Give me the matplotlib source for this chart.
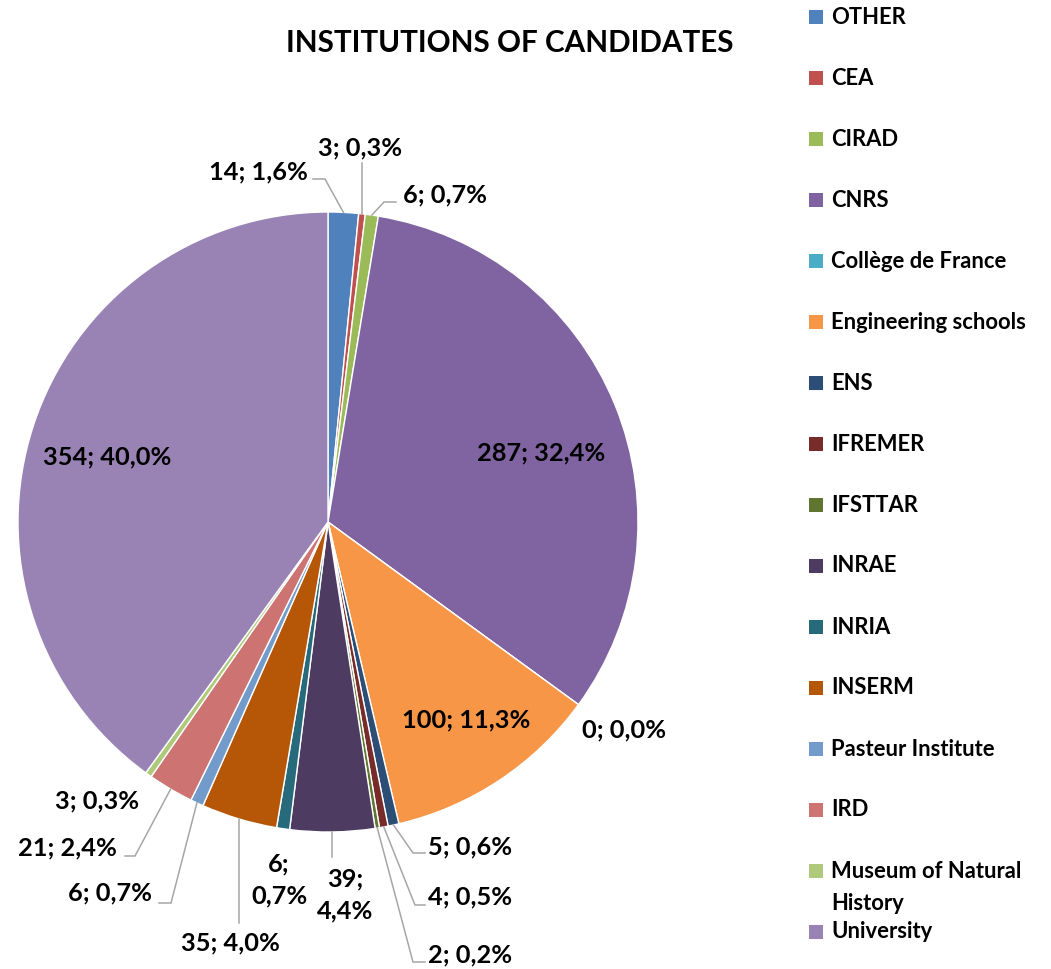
import matplotlib; matplotlib.use("Agg")
import matplotlib.pyplot as plt
from matplotlib.patches import Rectangle
import numpy as np

# data
institutions = ["OTHER", "CEA", "CIRAD", "CNRS", "Collège de France", "Engineering schools",
                "ENS", "IFREMER", "IFSTTAR", "INRAE", "INRIA", "INSERM", "Pasteur Institute",
                "IRD", "Museum of Natural\nHistory", "University"]
counts = [14, 3, 6, 287, 0, 100, 5, 4, 2, 39, 6, 35, 6, 21, 3, 354]
colors = ["#4F81BD", "#C0504D", "#9BBB59", "#8064A2", "#4BACC6", "#F79646", "#2C4D75",
          "#772C2A", "#5F7530", "#4D3B62", "#276A7C", "#B65708", "#729ACA", "#CD7371",
          "#AFC97A", "#9983B5"]

W, H = 1051, 969
plt.rcParams["font.family"] = ["Lato", "DejaVu Sans"]
fig = plt.figure(figsize=(W / 100, H / 100), dpi=100)
ax = fig.add_axes([0, 0, 1, 1])
Y = lambda y: H - y  # reference pixel rows -> axis units

cx, cy, R = 328, 522, 310
ax.pie(counts, colors=colors, startangle=90, counterclock=False, center=(cx, Y(cy)),
       radius=R, wedgeprops=dict(edgecolor="white", linewidth=1.0), frame=True)
ax.set_xlim(0, W); ax.set_ylim(0, H); ax.set_aspect("equal"); ax.axis("off")

total = sum(counts)
def lab(v, two=False):
    pct = f"{100 * v / total:.1f}".replace(".", ",")
    return f"{v};\n{pct}%" if two else f"{v}; {pct}%"

def edge_pt(i):
    mid = (sum(counts[:i]) + counts[i] / 2) / total * 360
    a = np.deg2rad(90 - mid)
    return cx + R * np.cos(a), Y(cy) + R * np.sin(a)

# label layout: (x, y, ha, two lines, leader points after wedge edge)
layout = {
    0: (308, 172, "right", False, [(325, 179), (313, 179)]),
    1: (360, 148, "center", False, ["v", 163]),
    2: (403, 195, "left", False, [(384, 202), (396, 202)]),
    3: (541, 453, "center", False, None),
    4: (624, 730, "center", False, None),
    5: (466, 720, "center", False, None),
    6: (428, 847, "left", False, [(413, 853), (425, 853)]),
    7: (428, 897, "left", False, [(415, 905), (425, 905)]),
    8: (428, 955, "left", False, [(413, 962), (425, 962)]),
    9: (345, 895, "center", True, ["v", 857]),
    10: (279, 880, "center", True, None),
    11: (230, 943, "center", False, ["v", 923]),
    12: (152, 893, "right", False, [(171, 903), (159, 903)]),
    13: (117, 848, "right", False, [(135, 856), (125, 856)]),
    14: (97, 801, "center", False, None),
    15: (107, 457, "center", False, None),
}
fs = 18.3
for i, (x, y, ha, two, lead) in layout.items():
    ax.text(x, Y(y), lab(counts[i], two), ha=ha, va="center", fontsize=fs,
            fontweight="bold", color="black", linespacing=1.5)
    if lead:
        ex, ey = edge_pt(i)
        if lead[0] == "v":
            xs, ys = [ex, ex], [ey, Y(lead[1])]
        else:
            xs = [ex] + [p[0] for p in lead]
            ys = [ey] + [Y(p[1]) for p in lead]
        ax.plot(xs, ys, color="#A6A6A6", lw=1.1, solid_joinstyle="miter")

ax.text(510, Y(43), "INSTITUTIONS OF CANDIDATES", ha="center", va="center",
        fontsize=21.3, fontweight="bold", color="black")

# legend
leg_y = [17, 78, 139, 200, 261, 322, 383, 444, 505, 566, 627, 688, 749, 810, 871, 932]
lfs = 15.8
for name, col, ly in zip(institutions, colors, leg_y):
    ax.add_patch(Rectangle((809, Y(ly) - 7), 14, 14, facecolor=col, edgecolor="none"))
    if "\n" in name:
        first, second = name.split("\n")
        ax.text(831, Y(ly), first, ha="left", va="center", fontsize=lfs, fontweight="bold")
        ax.text(831, Y(ly + 33), second, ha="left", va="center", fontsize=lfs, fontweight="bold")
    else:
        ax.text(831, Y(ly), name, ha="left", va="center", fontsize=lfs, fontweight="bold")

fig.savefig("out.png", dpi=100)
